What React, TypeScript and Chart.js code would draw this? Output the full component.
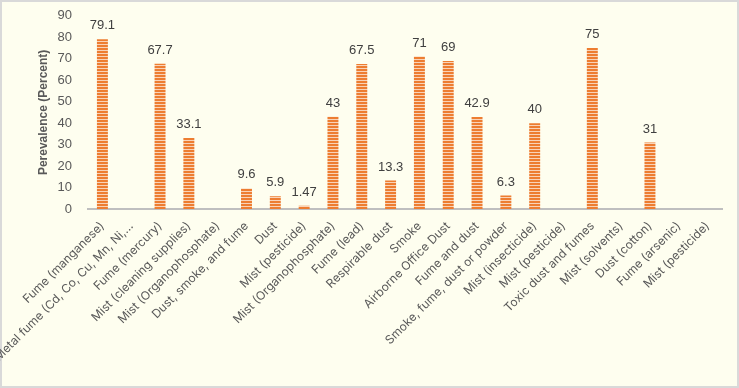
import React, { useEffect, useRef } from "react";
import { Chart, registerables } from "chart.js";

Chart.register(...registerables);

const categories: string[] = [
  "Fume (manganese)",
  "Metal fume (Cd, Co, Cu, Mn, Ni,…",
  "Fume (mercury)",
  "Mist (cleaning supplies)",
  "Mist (Organophosphate)",
  "Dust, smoke, and fume",
  "Dust",
  "Mist (pesticide)",
  "Mist (Organophosphate)",
  "Fume (lead)",
  "Respirable dust",
  "Smoke",
  "Airborne Office Dust",
  "Fume and dust",
  "Smoke, fume, dust or powder",
  "Mist (insecticide)",
  "Mist (pesticide)",
  "Toxic dust and fumes",
  "Mist (solvents)",
  "Dust (cotton)",
  "Fume (arsenic)",
  "Mist (pesticide)",
];

const prevalence: (number | null)[] = [
  79.1, null, 67.7, 33.1, null, 9.6, 5.9, 1.47, 43, 67.5, 13.3, 71, 69, 42.9, 6.3, 40, null, 75, null, 31, null, null,
];

const yTicks: number[] = [0, 10, 20, 30, 40, 50, 60, 70, 80, 90];

const BG = "#FEFEEF";

function makePattern(): CanvasPattern | string {
  const c = document.createElement("canvas");
  c.width = 4;
  c.height = 3;
  const ctx = c.getContext("2d");
  if (!ctx) return "#ED7D31";
  ctx.fillStyle = "#ED7D31";
  ctx.fillRect(0, 0, 4, 2);
  ctx.fillStyle = "#F9D3B8";
  ctx.fillRect(0, 2, 4, 1);
  return ctx.createPattern(c, "repeat") || "#ED7D31";
}

const bgPlugin = {
  id: "bgPlugin",
  beforeDraw(chart: any) {
    const { ctx, width, height } = chart;
    ctx.save();
    ctx.fillStyle = BG;
    ctx.fillRect(0, 0, width, height);
    ctx.strokeStyle = "#D9D9D9";
    ctx.lineWidth = 2;
    ctx.strokeRect(1, 1, width - 2, height - 2);
    ctx.restore();
  },
};

const valueLabels = {
  id: "valueLabels",
  afterDatasetsDraw(chart: any) {
    const { ctx } = chart;
    const meta = chart.getDatasetMeta(0);
    const data = chart.data.datasets[0].data;
    ctx.save();
    ctx.font = '13px "Liberation Sans", Arial, sans-serif';
    ctx.fillStyle = "#404040";
    ctx.textAlign = "center";
    ctx.textBaseline = "bottom";
    meta.data.forEach((bar: any, i: number) => {
      const v = data[i];
      if (v === null || v === undefined) return;
      ctx.fillText(String(v), bar.x, bar.y - 7);
    });
    ctx.restore();
  },
};

export default function App() {
  const ref = useRef<HTMLCanvasElement | null>(null);
  useEffect(() => {
    document.body.style.margin = "0";
    const canvas = ref.current;
    if (!canvas) return;
    const chart = new Chart(canvas, {
      type: "bar",
      data: {
        labels: categories,
        datasets: [
          {
            data: prevalence as any,
            backgroundColor: makePattern() as any,
            barPercentage: 0.38,
            categoryPercentage: 1,
          },
        ],
      },
      options: {
        animation: false,
        responsive: false,
        maintainAspectRatio: false,
        layout: { padding: { top: 15, right: 17, bottom: 0, left: 36 } },
        plugins: {
          legend: { display: false },
          tooltip: { enabled: false },
        },
        scales: {
          x: {
            grid: { display: false },
            border: { display: true, color: "#BFBFBF", width: 2 },
            ticks: {
              autoSkip: false,
              maxRotation: 45,
              minRotation: 45,
              color: "#595959",
              padding: 2,
              font: { family: "Inter, 'Noto Sans', sans-serif", size: 12 },
            },
            afterFit: (scale: any) => {
              scale.height = 179;
            },
          },
          y: {
            min: 0,
            max: 90,
            afterBuildTicks: (scale: any) => {
              scale.ticks = yTicks.map((v) => ({ value: v }));
            },
            grid: { display: false },
            border: { display: false },
            ticks: {
              color: "#595959",
              padding: 8,
              font: { family: "'Liberation Sans', Arial, sans-serif", size: 13 },
            },
            title: {
              display: true,
              text: "Perevalence (Percent)",
              color: "#595959",
              padding: { top: 0, bottom: 0 },
              font: { family: "'Liberation Sans', Arial, sans-serif", size: 12, weight: "bold" },
            },
            afterFit: (scale: any) => {
              scale.width = 52;
            },
          },
        },
      },
      plugins: [bgPlugin, valueLabels],
    });
    return () => chart.destroy();
  }, []);
  return <canvas ref={ref} width={739} height={388} style={{ display: "block" }} />;
}
